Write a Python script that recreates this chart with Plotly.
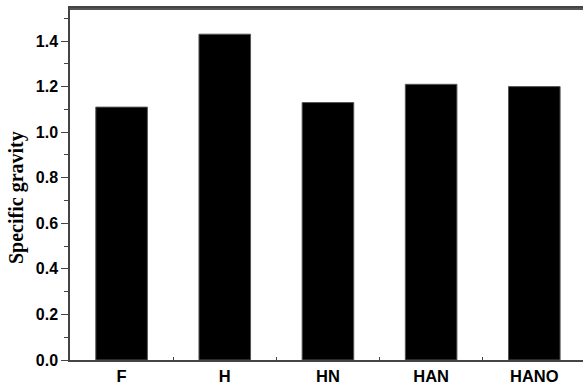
import plotly.graph_objects as go

categories = ["F", "H", "HN", "HAN", "HANO"]
specific_gravity = [1.11, 1.43, 1.13, 1.21, 1.20]
y_ticks = [0.0, 0.2, 0.4, 0.6, 0.8, 1.0, 1.2, 1.4]

W, H = 583, 385
L, R, T, B = 70, 0, 8, 25

fig = go.Figure(go.Bar(
    x=categories, y=specific_gravity, width=0.5,
    marker=dict(color="black", line=dict(color="#555", width=1)),
))

fig.update_layout(
    width=W, height=H,
    margin=dict(l=L, r=R, t=T, b=B, autoexpand=False),
    plot_bgcolor="white", paper_bgcolor="white",
    showlegend=False,
)
fig.update_xaxes(
    automargin=False,
    range=[-0.5, 4.472],
    showline=True, linecolor="#444", linewidth=1.5, mirror=True,
    ticks="inside", tickson="boundaries", ticklen=3, tickcolor="#444",
    showgrid=False, zeroline=False,
    tickfont=dict(family="Arial, Liberation Sans", size=16.5, color="black", weight="bold"),
)
fig.update_yaxes(
    automargin=False,
    range=[0, 1.545],
    tickvals=y_ticks, tickformat=".1f",
    showline=True, linecolor="#444", linewidth=1.5,
    ticks="outside", ticklen=7, tickcolor="#444",
    minor=dict(dtick=0.1, ticks="outside", ticklen=4, tickcolor="#444"),
    showgrid=False, zeroline=False,
    tickfont=dict(family="Arial, Liberation Sans", size=16, color="black", weight="bold"),
)
# top frame line, drawn as a rectangle edge in paper coordinates
fig.add_shape(type="rect", xref="paper", yref="paper", x0=0, x1=1.02, y0=0.994, y1=1.0,
              line=dict(width=0), fillcolor="#555", layer="above")
fig.add_annotation(
    text="<b>Specific gravity</b>", textangle=-90,
    xref="paper", yref="paper", x=(16 - L) / (W - L - R), y=(360 - 198) / (H - T - B),
    showarrow=False, xanchor="center", yanchor="middle",
    font=dict(family="Liberation Serif, Times New Roman", size=20, color="black"),
)

fig.write_html("out.html", config={"displayModeBar": False},
               post_script="document.body.style.margin='0';document.body.style.overflow='hidden';")
